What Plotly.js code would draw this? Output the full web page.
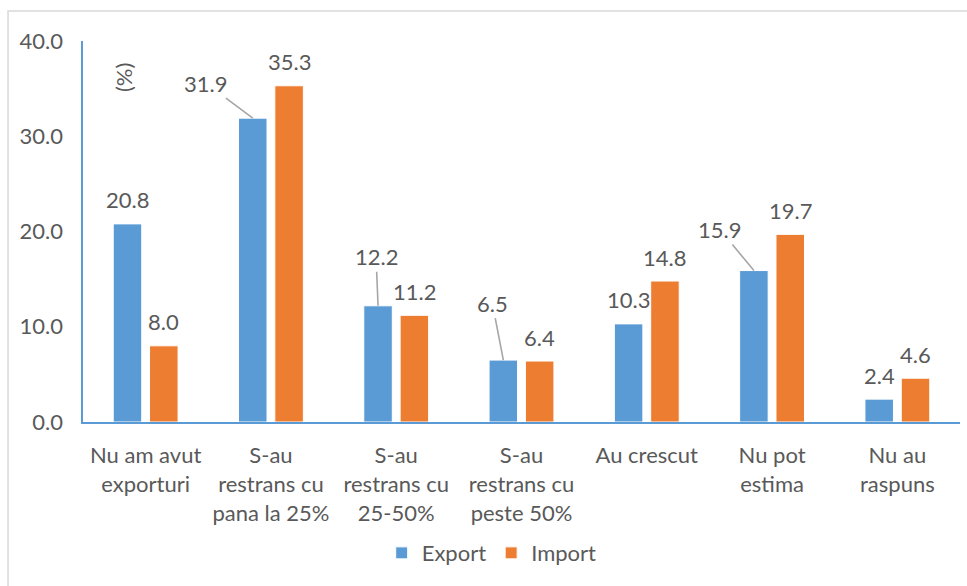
<!DOCTYPE html>
<html>
<head>
<meta charset="utf-8">
<script src="https://cdn.plot.ly/plotly-3.0.1.min.js"></script>
<style>
html,body{margin:0;padding:0;background:#fff;}
#chart{width:967px;height:586px;}
</style>
</head>
<body>
<div id="chart"></div>
<script>
// ---- data ----
const categories = [
  "Nu am avut<br>exporturi",
  "S-au<br>restrans cu<br>pana la 25%",
  "S-au<br>restrans cu<br>25-50%",
  "S-au<br>restrans cu<br>peste 50%",
  "Au crescut",
  "Nu pot<br>estima",
  "Nu au<br>raspuns"
];
const seriesNames = ["Export", "Import"];
const exportValues = [20.8, 31.9, 12.2, 6.5, 10.3, 15.9, 2.4];
const importValues = [8.0, 35.3, 11.2, 6.4, 14.8, 19.7, 4.6];
const yTickVals = [0, 10, 20, 30, 40];
const unitLabel = "(%)";

// ---- styling / layout config ----
const FONT = "Lato, 'Open Sans', sans-serif";
const TXT = "#595959";
const BLUE = "#5B9BD5";
const ORANGE = "#ED7D31";
const FS = 22;
const halfSlot = 18.15;   // px offset of each bar from the category centre
// leader-line label offsets (px) for export labels that use a connector
const exportLeader = {1: [-47, -35], 2: [-2, -49], 3: [-11, -57], 5: [-34, -41]};

const xIdx = categories.map((_, i) => i);

const traces = [
  {type: "bar", name: seriesNames[0], x: xIdx, y: exportValues,
   marker: {color: BLUE, line: {color: "#ffffff", width: 1}}, hoverinfo: "none"},
  {type: "bar", name: seriesNames[1], x: xIdx, y: importValues,
   marker: {color: ORANGE, line: {color: "#ffffff", width: 1}}, hoverinfo: "none"}
];

const annotations = [];
[exportValues, importValues].forEach((vals, s) => {
  vals.forEach((v, j) => {
    const base = {
      x: j, y: v, xref: "x", yref: "y",
      text: v.toFixed(1),
      font: {family: FONT, size: FS, color: TXT},
      xshift: s === 0 ? -halfSlot : halfSlot
    };
    if (s === 0 && exportLeader[j]) {
      Object.assign(base, {
        showarrow: true, arrowhead: 0, arrowwidth: 1.6, arrowcolor: "#A6A6A6",
        ax: exportLeader[j][0], ay: exportLeader[j][1]
      });
    } else {
      Object.assign(base, {showarrow: false, yanchor: "middle", yshift: 24});
    }
    annotations.push(base);
  });
});
annotations.push({
  xref: "paper", yref: "paper", x: 0.0468, y: 0.903,
  xanchor: "center", yanchor: "middle",
  text: unitLabel, textangle: -90, showarrow: false,
  font: {family: FONT, size: FS, color: TXT}
});

const layout = {
  width: 967, height: 586,
  margin: {l: 83, r: 7, t: 41, b: 164},
  paper_bgcolor: "#ffffff", plot_bgcolor: "#ffffff",
  font: {family: FONT, size: FS, color: TXT},
  bargap: 0.42, bargroupgap: 0.215, barmode: "group",
  showlegend: true,
  legend: {orientation: "h", x: 0.466, xanchor: "center", y: -0.344, yanchor: "middle",
           font: {family: FONT, size: FS, color: TXT}, itemclick: false},
  xaxis: {
    type: "linear", range: [-0.5, 6.5],
    tickvals: xIdx, ticktext: categories,
    showgrid: false, zeroline: false,
    showline: true, linecolor: BLUE, linewidth: 2,
    ticks: "", tickfont: {family: FONT, size: FS, color: TXT},
    ticklabelstandoff: 13, fixedrange: true
  },
  yaxis: {
    range: [0, 40], tickvals: yTickVals, tickformat: ".1f",
    showgrid: false, zeroline: false,
    showline: true, linecolor: BLUE, linewidth: 1.6,
    ticks: "", tickfont: {family: FONT, size: FS, color: TXT},
    ticklabelstandoff: 14, fixedrange: true
  },
  annotations: annotations,
  shapes: [{
    type: "rect", xref: "paper", yref: "paper",
    x0: -0.0855, x1: 1.2, y0: -1, y1: 1.0787,
    line: {color: "#D9D9D9", width: 1.5}, fillcolor: "rgba(0,0,0,0)", layer: "below"
  }]
};

Plotly.newPlot("chart", traces, layout, {displayModeBar: false, staticPlot: true});
</script>
</body>
</html>
